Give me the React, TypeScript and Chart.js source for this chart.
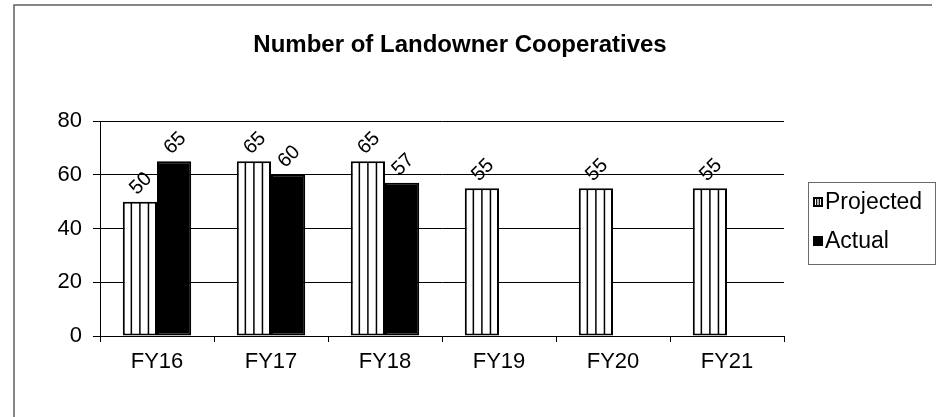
import React, { useEffect, useRef } from "react";
import { Chart, registerables } from "chart.js";

Chart.register(...registerables);

const TITLE = "Number of Landowner Cooperatives";
const categories = ["FY16", "FY17", "FY18", "FY19", "FY20", "FY21"];
const projected = [50, 65, 65, 55, 55, 55];
const actual: (number | null)[] = [65, 60, 57, null, null, null];
const yTicks = [0, 20, 40, 60, 80];
const seriesNames = ["Projected", "Actual"];

const FONT = "'Liberation Sans', Arial, sans-serif";

const framePlugin = {
  id: "frame",
  beforeDraw(chart: any) {
    const ctx = chart.ctx;
    ctx.save();
    ctx.fillStyle = "#ffffff";
    ctx.fillRect(0, 0, chart.width, chart.height);
    ctx.strokeStyle = "#5f5f5f";
    ctx.lineWidth = 1.5;
    ctx.beginPath();
    ctx.moveTo(14, chart.height + 5);
    ctx.lineTo(14, 5);
    ctx.lineTo(932, 5);
    ctx.stroke();
    ctx.restore();
  },
};

const titlePlugin = {
  id: "customTitle",
  afterDraw(chart: any) {
    const ctx = chart.ctx;
    ctx.save();
    ctx.fillStyle = "#000";
    ctx.font = `bold 24px ${FONT}`;
    ctx.textAlign = "center";
    ctx.textBaseline = "middle";
    ctx.fillText(TITLE, 460, 45);
    ctx.restore();
  },
};

const stripePlugin = {
  id: "stripes",
  afterDatasetsDraw(chart: any) {
    const ctx = chart.ctx;
    const meta = chart.getDatasetMeta(0);
    ctx.save();
    ctx.strokeStyle = "#000";
    ctx.lineWidth = 1.5;
    meta.data.forEach((bar: any) => {
      const { x, y, base, width } = bar.getProps(["x", "y", "base", "width"], true);
      const left = x - width / 2;
      for (let k = 1; k < 4; k++) {
        const sx = left + (width * k) / 4;
        ctx.beginPath();
        ctx.moveTo(sx, y + 1);
        ctx.lineTo(sx, base - 1);
        ctx.stroke();
      }
    });
    ctx.restore();
  },
};

const labelPlugin = {
  id: "valueLabels",
  afterDatasetsDraw(chart: any) {
    const ctx = chart.ctx;
    ctx.save();
    ctx.fillStyle = "#000";
    ctx.font = `20px ${FONT}`;
    ctx.textAlign = "center";
    ctx.textBaseline = "middle";
    chart.data.datasets.forEach((ds: any, di: number) => {
      const meta = chart.getDatasetMeta(di);
      meta.data.forEach((bar: any, i: number) => {
        const v = ds.data[i];
        if (v === null || v === undefined) return;
        const { x, y } = bar.getProps(["x", "y"], true);
        ctx.save();
        ctx.translate(x + 1, y - 18);
        ctx.rotate(-Math.PI / 4);
        ctx.fillText(String(v), 0, 0);
        ctx.restore();
      });
    });
    ctx.restore();
  },
};

const legendPlugin = {
  id: "customLegend",
  afterDraw(chart: any) {
    const ctx = chart.ctx;
    ctx.save();
    ctx.strokeStyle = "#6a6a6a";
    ctx.lineWidth = 1;
    ctx.strokeRect(808.5, 182.5, 127, 82);
    ctx.font = `23px ${FONT}`;
    ctx.textBaseline = "middle";
    ctx.textAlign = "left";
    ctx.fillStyle = "#000";
    const rows = [202, 241];
    chart.data.datasets.forEach((ds: any, di: number) => {
      const cy = rows[di];
      if (di === 0) {
        ctx.fillStyle = "#fff";
        ctx.fillRect(813, cy - 5, 10, 10);
        ctx.strokeStyle = "#000";
        ctx.lineWidth = 2;
        ctx.strokeRect(814, cy - 4, 8, 8);
        ctx.lineWidth = 1.2;
        ctx.beginPath();
        ctx.moveTo(816.7, cy - 4);
        ctx.lineTo(816.7, cy + 4);
        ctx.moveTo(819.3, cy - 4);
        ctx.lineTo(819.3, cy + 4);
        ctx.stroke();
      } else {
        ctx.fillStyle = "#000";
        ctx.fillRect(813, cy - 5, 10, 10);
      }
      ctx.fillStyle = "#000";
      ctx.fillText(ds.label, 825, cy + 1);
    });
    ctx.restore();
  },
};

export default function App() {
  const ref = useRef<HTMLCanvasElement | null>(null);

  useEffect(() => {
    if (!ref.current) return;
    const chart = new Chart(ref.current, {
      type: "bar",
      data: {
        labels: categories,
        datasets: [
          {
            label: seriesNames[0],
            data: projected,
            backgroundColor: "#ffffff",
            borderColor: "#000000",
            borderWidth: 2,
            borderSkipped: false,
            categoryPercentage: 0.6,
            barPercentage: 1.0,
          },
          {
            label: seriesNames[1],
            data: actual,
            backgroundColor: "#000000",
            borderColor: "#000000",
            borderWidth: 2,
            borderSkipped: false,
            categoryPercentage: 0.6,
            barPercentage: 1.0,
          },
        ],
      },
      options: {
        responsive: false,
        animation: false,
        layout: { padding: { left: 0, right: 157, top: 121, bottom: 0 } },
        plugins: {
          legend: { display: false },
          title: { display: false },
          tooltip: { enabled: false },
        },
        scales: {
          x: {
            grid: {
              display: true,
              drawOnChartArea: false,
              drawTicks: true,
              tickLength: 6,
              color: "#000",
              offset: true,
            },
            border: { display: true, color: "#000", width: 1 },
            ticks: {
              color: "#000",
              font: { family: FONT, size: 22 },
              padding: 7,
              maxRotation: 0,
            },
            afterFit: (scale: any) => {
              scale.height = 417 - 336;
            },
          },
          y: {
            min: 0,
            max: 80,
            afterBuildTicks: (scale: any) => {
              scale.ticks = yTicks.map((v) => ({ value: v }));
            },
            grid: {
              color: "#000",
              lineWidth: 1,
              tickLength: 7,
              drawTicks: true,
            },
            border: { display: true, color: "#000", width: 1 },
            ticks: {
              color: "#000",
              font: { family: FONT, size: 22 },
              padding: 11,
            },
            afterFit: (scale: any) => {
              scale.width = 100;
            },
          },
        },
      },
      plugins: [framePlugin, stripePlugin, labelPlugin, titlePlugin, legendPlugin],
    });
    return () => chart.destroy();
  }, []);

  return (
    <div style={{ position: "absolute", left: 0, top: 0, width: 941, height: 417, background: "#fff" }}>
      <canvas ref={ref} width={941} height={417} style={{ display: "block" }} />
    </div>
  );
}
